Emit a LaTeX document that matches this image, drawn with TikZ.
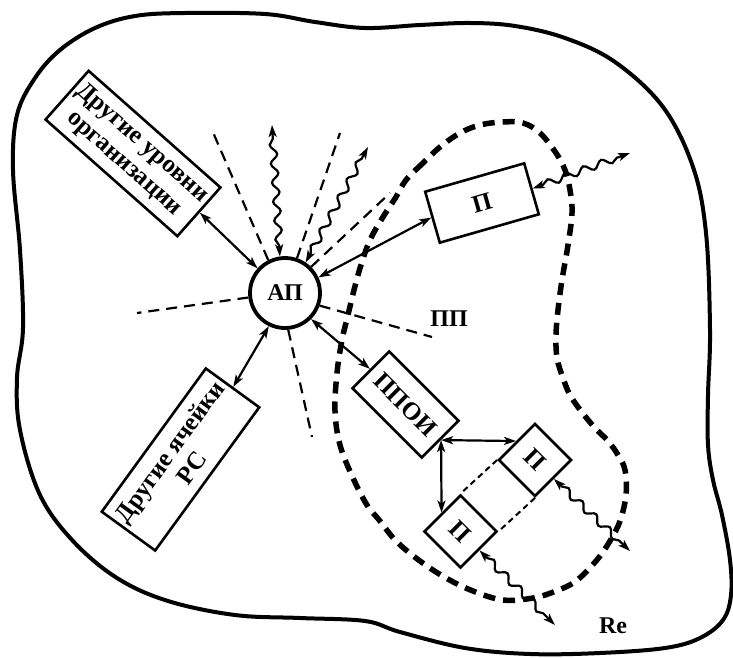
\documentclass[tikz,border=0pt]{standalone}
\usepackage{fontspec}
\setmainfont{Liberation Serif}
\usetikzlibrary{arrows.meta,decorations.pathmorphing,calc}

\begin{document}
\begin{tikzpicture}[x=1pt,y=-1pt,
  lbl/.style={font=\fontsize{24}{27}\selectfont\bfseries},
  boxlbl/.style={font=\fontsize{25}{27}\selectfont\bfseries},
  box/.style={draw, line width=2.6pt, inner sep=0pt, align=center, boxlbl},
  link/.style={line width=2.2pt,
    {Stealth[length=12pt,width=8pt,inset=3pt]}-{Stealth[length=12pt,width=8pt,inset=3pt]}},
  wave/.style={link, decorate,
    decoration={snake, amplitude=3.5pt, segment length=19pt, pre length=11pt, post length=11pt}},
  ray/.style={line width=2.2pt, dash pattern=on 11pt off 7pt},
  zone/.style={line width=5.5pt, dash pattern=on 12pt off 8pt},
  tie/.style={line width=2pt, dash pattern=on 6pt off 4pt},
]
\useasboundingbox (0,0) rectangle (733,658);

% outer boundary of the system
\draw[line width=4pt] plot[smooth cycle, tension=0.6] coordinates {
  (23,328) (20,250) (13,170) (17,115) (35,78) (60,50) (95,28) (135,16)
  (185,13) (265,14) (315,22) (365,28) (420,25) (470,23) (515,26) (565,38)
  (615,62) (663,107) (693,167) (706,233) (710,330) (708,395) (708,445)
  (713,480) (722,515) (730,560) (731,595) (723,620) (700,638) (665,648)
  (600,653) (530,654) (465,648) (400,632) (365,621) (300,618) (235,615)
  (168,601) (117,578) (73,541) (40,495) (20,430) (17,378)};

% region of the subsystem (ПП)
\draw[zone] plot[smooth cycle, tension=0.6] coordinates {
  (440,147) (423,163) (406,180) (396,197) (383,217) (370,240) (361,265)
  (354,290) (348,315) (342,340) (337,373) (335,411) (340,445) (353,478)
  (367,505) (380,521) (396,541) (420,561) (446,578) (473,591) (503,600)
  (533,598) (556,591) (576,581) (596,561) (610,541) (620,521) (626,495)
  (625,470) (618,455) (608,441) (595,428) (581,411) (570,395) (563,378)
  (557,358) (556,335) (558,310) (562,280) (568,245) (572,213) (570,190)
  (565,170) (556,153) (540,133) (523,123) (503,122) (480,125) (460,133)};

% central node
\node[circle, draw, line width=3.8pt, minimum size=70pt, inner sep=0pt, lbl] (ap) at (285,293) {АП};

% blocks
\node[box, rotate=-41.5, minimum width=176pt, minimum height=65pt] (uvr) at (133,153.5) {Другие уровни\\организации};
\node[box, rotate=54, minimum width=177pt, minimum height=66pt] (yac) at (180.5,459.5) {Другие ячейки\\РС};
\node[box, rotate=16, minimum width=103pt, minimum height=53pt] (p1) at (482,203) {П};
\node[box, rotate=-45, minimum width=98pt, minimum height=52pt] (ppoi) at (405.5,404.5) {ППОИ};
\node[box, rotate=-45, minimum width=51pt, minimum height=51pt] (p2) at (535,460) {П};
\node[box, rotate=-45, minimum width=51pt, minimum height=51pt] (p3) at (460.5,531.5) {П};

% labels
\node[lbl] (lpp) at (449,319) {ПП};
\node[lbl] (lre) at (613,626) {Re};

% free ends of rays and waves
\coordinate (r1) at (212,130);
\coordinate (r2) at (340,133);
\coordinate (r3) at (390,193);
\coordinate (r4) at (137,313);
\coordinate (r5) at (432,337);
\coordinate (r6) at (312,437);
\coordinate (w1) at (272,125);
\coordinate (w2) at (368,147);
\coordinate (w3) at (630,153);
\coordinate (w4) at (630,551);
\coordinate (w5) at (555,625);

% dashed rays
\draw[ray] (ap.117) -- (r1);
\draw[ray] (ap.71) -- (r2);
\draw[ray] (ap.45) -- (r3);
\draw[ray] (ap.187) -- (r4);
\draw[ray] (ap.340) -- (r5);
\draw[ray] (ap.275) -- (r6);

% wavy links
\draw[wave] (ap.98) -- (w1);
\draw[wave] (ap.56) -- (w2);
\draw[wave] (p1.east) -- (w3);
\draw[wave] (p2.east) -- (w4);
\draw[wave] (p3.east) -- (w5);

% direct links
\draw[link] (ap.138) -- (uvr.east);
\draw[link] (ap.244) -- (yac.east);
\draw[link] (ap.25) -- (p1.west);
\draw[link] (ap.315) -- (ppoi.west);
\draw[link] (ppoi.east) -- (p2.west);
\draw[link] (ppoi.east) -- (p3.west);

% ties between the two lower blocks
\draw[tie] (p2.south west) -- (p3.north west);
\draw[tie] (p2.south east) -- (p3.north east);
\end{tikzpicture}
\end{document}
